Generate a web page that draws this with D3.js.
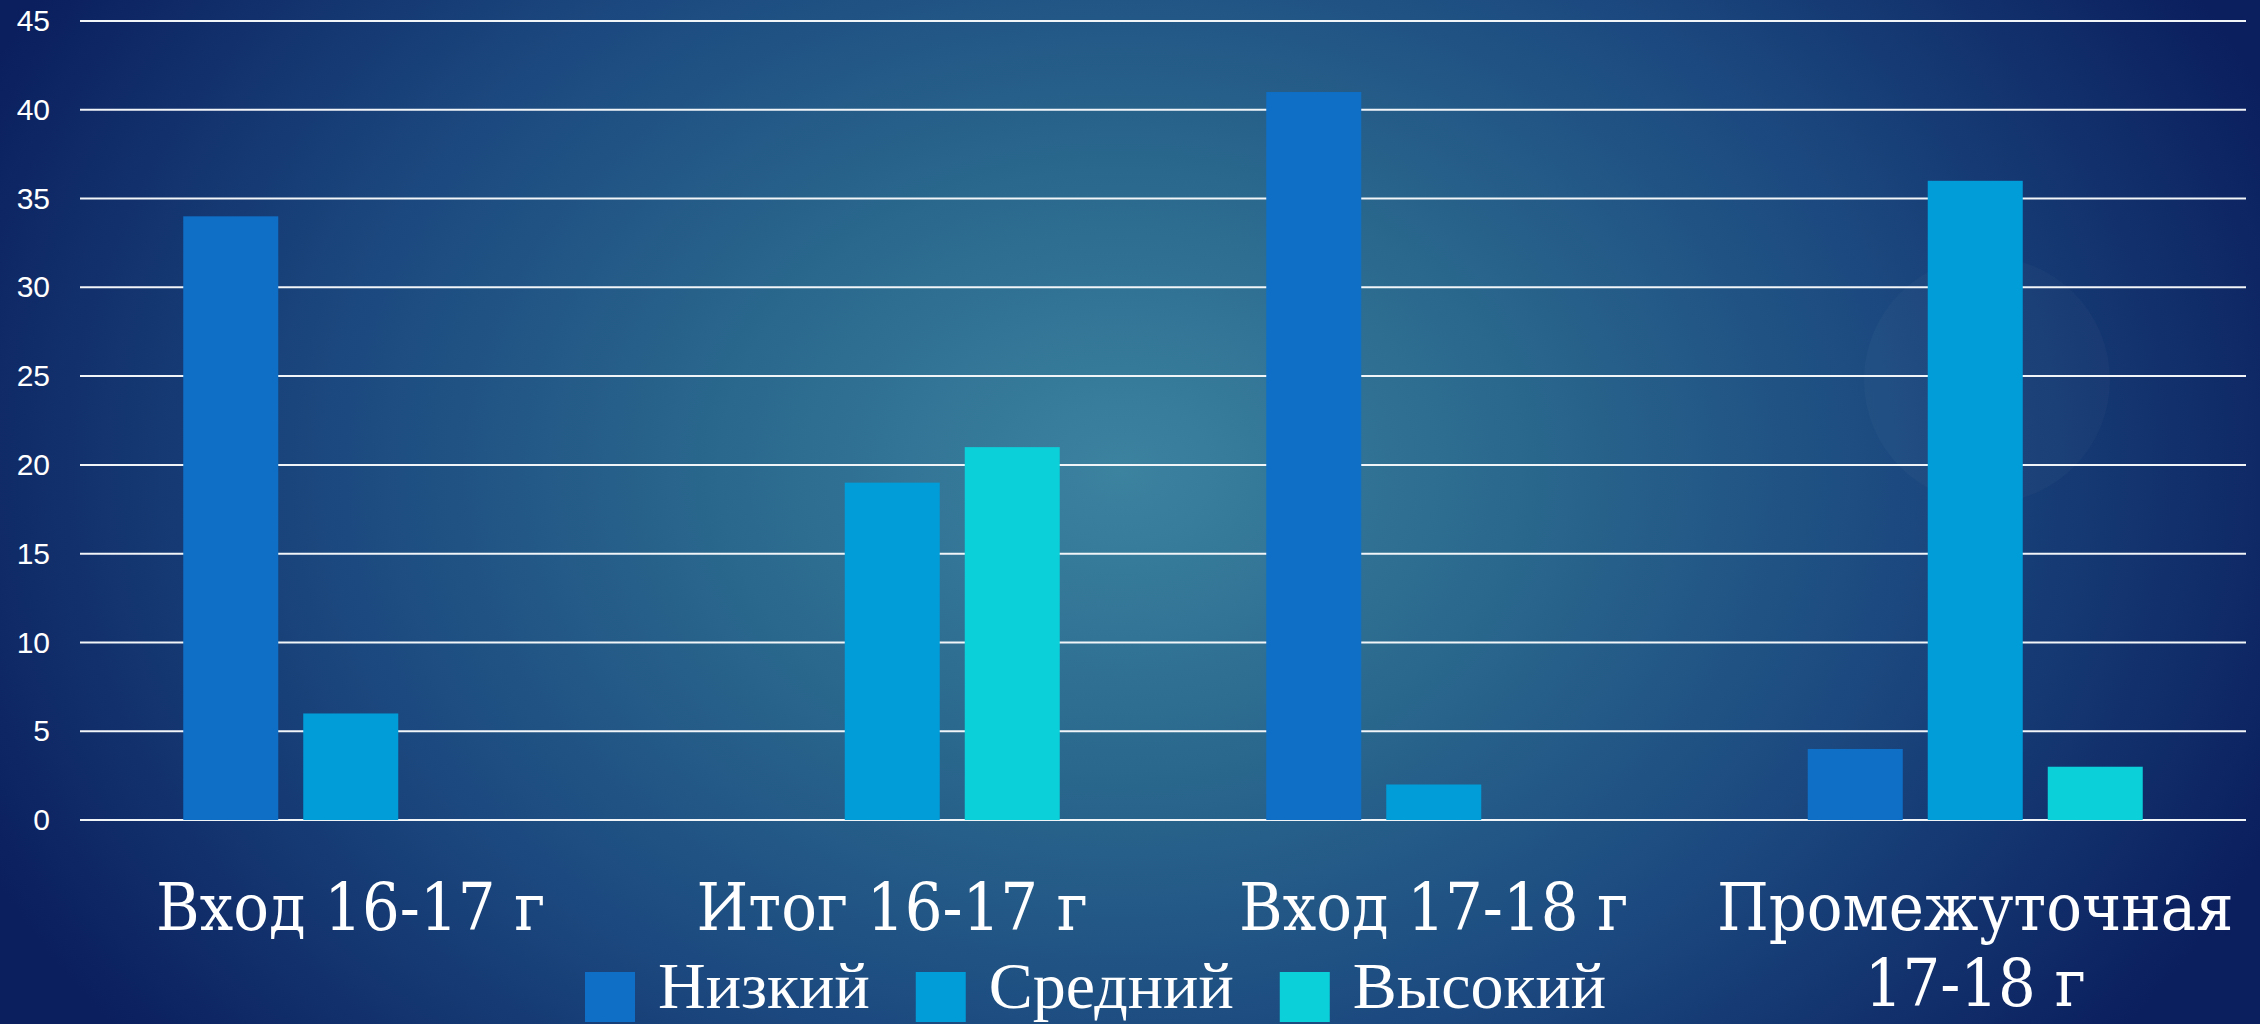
<!DOCTYPE html>
<html>
<head>
<meta charset="utf-8">
<script src="https://cdn.jsdelivr.net/npm/d3@7"></script>
<style>
  html, body { margin: 0; padding: 0; background: #0f2a66; }
  svg { display: block; }
</style>
</head>
<body>
<svg id="chart" width="2260" height="1024"></svg>
<script>
// ---- data ----
const categories = ["Вход 16-17 г", "Итог 16-17 г", "Вход 17-18 г", "Промежуточная 17-18 г"];
const categoryLines = [["Вход 16-17 г"], ["Итог 16-17 г"], ["Вход 17-18 г"], ["Промежуточная", "17-18 г"]];
const seriesNames = ["Низкий", "Средний", "Высокий"];
const seriesLow = [34, 0, 41, 4];
const seriesMid = [6, 19, 2, 36];
const seriesHigh = [0, 21, 0, 3];
const yTicks = [0, 5, 10, 15, 20, 25, 30, 35, 40, 45];
const colors = ["#0F6FC6", "#009DD9", "#0BD0D9"];

const seriesValues = [seriesLow, seriesMid, seriesHigh];

const W = 2260, H = 1024;
const svg = d3.select("#chart");

// ---- background ----
const defs = svg.append("defs");
const rg = defs.append("radialGradient").attr("id", "bg")
  .attr("gradientUnits", "userSpaceOnUse")
  .attr("cx", 1120).attr("cy", 470).attr("r", 1250)
  .attr("gradientTransform", "translate(1120,470) scale(1,0.75) translate(-1120,-470)");
rg.append("stop").attr("offset", "0").attr("stop-color", "#3c83a0");
rg.append("stop").attr("offset", "0.3").attr("stop-color", "#2b6a8e");
rg.append("stop").attr("offset", "0.62").attr("stop-color", "#1c4a80");
rg.append("stop").attr("offset", "1").attr("stop-color", "#0b1f5e");
svg.append("rect").attr("width", W).attr("height", H).attr("fill", "url(#bg)");
svg.append("circle").attr("cx", 1987).attr("cy", 380).attr("r", 123)
  .attr("fill", "#ffffff").attr("fill-opacity", 0.022);

// ---- scales ----
const plotLeft = 80, plotRight = 2246, plotTop = 21, plotBottom = 820;
const y = d3.scaleLinear().domain([0, 45]).range([plotBottom, plotTop]);
const x0 = d3.scaleBand().domain(categories).range([plotLeft, plotRight]).padding(0);
const x1 = d3.scaleBand().domain(seriesNames).range([0, x0.bandwidth()])
  .paddingInner(25 / 120).paddingOuter(0.8604);

// ---- gridlines ----
svg.append("g").selectAll("line").data(yTicks).join("line")
  .attr("x1", plotLeft).attr("x2", plotRight)
  .attr("y1", d => y(d)).attr("y2", d => y(d))
  .attr("stroke", "#f2f5f8").attr("stroke-width", 2);

// ---- y axis labels ----
const yAxis = d3.axisLeft(y).tickValues(yTicks).tickSize(0).tickPadding(0);
const gy = svg.append("g").attr("transform", "translate(50,0)").call(yAxis);
gy.select(".domain").remove();
gy.selectAll("text")
  .attr("fill", "#ffffff")
  .style("font-family", "'Liberation Sans', Arial, sans-serif")
  .style("font-size", "30px");

// ---- bars ----
const groups = svg.append("g").selectAll("g").data(categories).join("g")
  .attr("transform", d => `translate(${x0(d)},0)`);
groups.selectAll("rect")
  .data((c, ci) => seriesNames.map((s, si) => ({ s, si, v: seriesValues[si][ci] })))
  .join("rect")
  .attr("x", d => x1(d.s))
  .attr("width", x1.bandwidth())
  .attr("y", d => y(d.v))
  .attr("height", d => y(0) - y(d.v))
  .attr("fill", d => colors[d.si])
  .attr("display", d => d.v > 0 ? null : "none");

// ---- category labels ----
const catG = svg.append("g");
categories.forEach((c, i) => {
  const t = catG.append("text")
    .attr("x", x0(c) + x0.bandwidth() / 2)
    .attr("y", 930)
    .attr("text-anchor", "middle")
    .attr("fill", "#ffffff")
    .style("font-family", "'DejaVu Serif Condensed', 'DejaVu Serif', serif")
    .style("font-stretch", "condensed")
    .style("font-size", "66px");
  categoryLines[i].forEach((ln, li) => {
    t.append("tspan").attr("x", x0(c) + x0.bandwidth() / 2)
      .attr("dy", li === 0 ? 0 : 76).text(ln);
  });
});

// ---- legend ----
const legend = svg.append("g");
let lx = 585;
seriesNames.forEach((s, i) => {
  legend.append("rect").attr("x", lx).attr("y", 972).attr("width", 50).attr("height", 50)
    .attr("fill", colors[i]);
  const t = legend.append("text").attr("x", lx + 73).attr("y", 1008)
    .attr("fill", "#ffffff")
    .style("font-family", "'Liberation Serif', 'Times New Roman', serif")
    .style("font-size", "66px")
    .text(s);
  lx = lx + 73 + t.node().getComputedTextLength() + 46;
});
</script>
</body>
</html>
